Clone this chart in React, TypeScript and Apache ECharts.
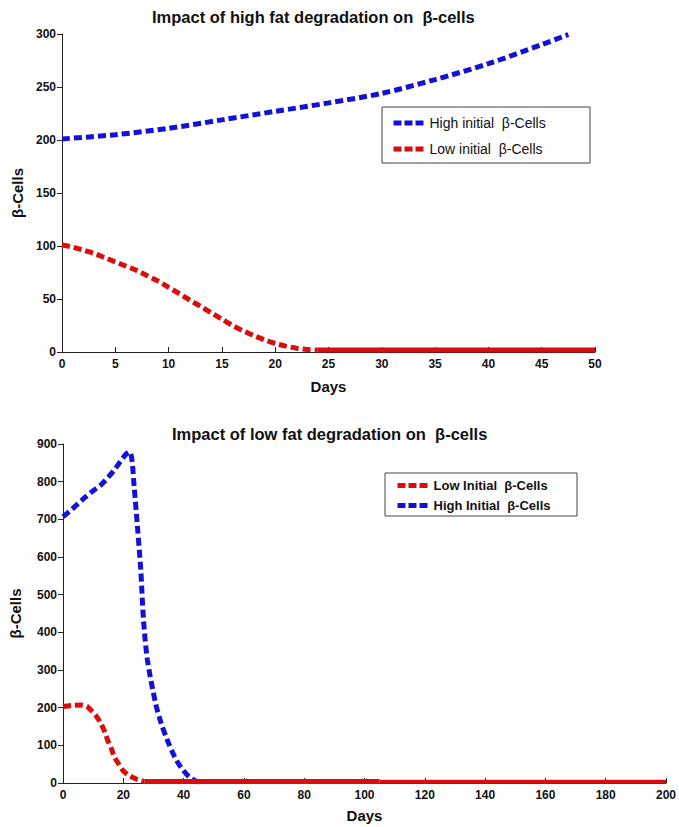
import React, { useEffect, useRef } from "react";
import * as echarts from "echarts";

// ---------- data ----------
const topTitle = "Impact of high fat degradation on  β-cells";
const bottomTitle = "Impact of low fat degradation on  β-cells";

const topHighName = "High initial  β-Cells";
const topLowName = "Low initial  β-Cells";
const bottomLowName = "Low Initial  β-Cells";
const bottomHighName = "High Initial  β-Cells";

const topHighDays = [0, 5, 10, 15, 20, 25, 30, 35, 40, 45, 47.5];
const topHighValues = [201, 205, 211, 219, 227, 235, 244, 257, 272, 290, 299.5];

const topLowDays = [0, 1, 2, 3, 4, 5, 6, 7, 8, 9, 10, 11, 12, 13, 14, 15, 16, 17, 18, 19, 20, 21, 22, 23, 24];
const topLowValues = [101, 99, 96, 93, 89, 85, 81, 77, 72, 67, 61, 55, 49, 43, 37, 31, 25, 20, 15.5, 11.5, 8, 5.5, 3.6, 2.4, 1.8];
const topLowTailDays = [24, 50];
const topLowTailValues = [1.8, 1.8];

const bottomHighDays = [0, 3, 7, 10, 12.5, 15, 17, 19, 21, 22, 22.8, 23.6, 24.7, 25.8, 26.7, 28, 30.7, 32.5, 34.6, 37, 39, 42, 44.5, 46];
const bottomHighValues = [707, 727, 756, 776, 791, 812, 831, 853, 874, 879, 862, 787, 680, 565, 433, 327, 212, 160, 114, 70, 43, 15, 4, 2];

const bottomLowDays = [0, 3, 6, 8, 9.2, 11, 12.5, 14, 14.8, 16, 17, 18.5, 19.7, 21.5, 23.6, 25, 27];
const bottomLowValues = [203, 206, 207, 203, 194, 178, 159, 133, 114, 92, 70, 50, 35, 22, 13, 8, 4];
const bottomLowTailDays = [27, 105];
const bottomLowTailValues = [4, 4];
const bottomLowTail2Days = [105, 200];
const bottomLowTail2Values = [3.5, 3.5];

const xLabel = "Days";
const yLabel = "β-Cells";

const zip = (xs: number[], ys: number[]) => xs.map((x, i) => [x, ys[i]]);

const BLUE = "#1212d6";
const RED = "#da0c0c";
const FONT = 'Arial, "Liberation Sans", Helvetica, sans-serif';

export default function App() {
  const ref = useRef<HTMLDivElement>(null);
  useEffect(() => {
    if (!ref.current) return;
    const chart = echarts.init(ref.current, undefined, { renderer: "svg" });

    const axisCommon = {
      type: "value" as const,
      axisLine: { show: true, lineStyle: { color: "#222", width: 1 } },
      splitLine: { show: false },
      axisLabel: { color: "#111", fontSize: 12, fontWeight: "bold", fontFamily: FONT },
      nameTextStyle: { color: "#111", fontSize: 15, fontWeight: "bold", fontFamily: FONT },
    };
    const xCommon = {
      ...axisCommon,
      axisTick: { show: true, inside: true, length: 5, lineStyle: { color: "#222" } },
      axisLabel: { ...axisCommon.axisLabel, margin: 6 },
      nameLocation: "middle" as const,
      name: xLabel,
    };
    const yCommon = {
      ...axisCommon,
      axisTick: { show: true, inside: false, length: 5, lineStyle: { color: "#222" } },
      axisLabel: { ...axisCommon.axisLabel, margin: 6 },
      nameLocation: "middle" as const,
      name: yLabel,
    };

    const dashed = (color: string) => ({ color, width: 5, type: [8, 4] as number[], cap: "butt" as const });
    const legendCommon = {
      orient: "vertical" as const,
      padding: 0,
      itemWidth: 31,
      backgroundColor: "transparent",
      borderWidth: 0,
      lineStyle: { width: 5, type: [8, 3] },
      itemStyle: { opacity: 0, borderWidth: 0 },
      z: 5,
    };

    chart.setOption({
      animation: false,
      backgroundColor: "#fff",
      title: [
        { text: topTitle, left: 147, top: 3, textStyle: { fontSize: 16.5, fontWeight: "bold", color: "#111", fontFamily: FONT } },
        { text: bottomTitle, left: 167, top: 420, textStyle: { fontSize: 16.5, fontWeight: "bold", color: "#111", fontFamily: FONT } },
      ],
      graphic: [
        { type: "rect", z: 4, shape: { x: 382, y: 107, width: 208, height: 56 }, style: { fill: "#fff", stroke: "#444", lineWidth: 1 } },
        { type: "rect", z: 4, shape: { x: 385, y: 473, width: 192, height: 43 }, style: { fill: "#fff", stroke: "#444", lineWidth: 1 } },
      ],
      grid: [
        { left: 62, top: 34, width: 533, height: 318 },
        { left: 62, top: 444, width: 605, height: 339 },
      ],
      xAxis: [
        { ...xCommon, gridIndex: 0, min: 0, max: 50, interval: 5, nameGap: 27 },
        { ...xCommon, gridIndex: 1, min: 0, max: 200, interval: 20, nameGap: 25 },
      ],
      yAxis: [
        { ...yCommon, gridIndex: 0, min: 0, max: 300, interval: 50, nameGap: 23 },
        { ...yCommon, gridIndex: 1, min: 0, max: 900, interval: 100, nameGap: 40 },
      ],
      legend: [
        {
          ...legendCommon,
          data: [topHighName, topLowName],
          left: 391,
          top: 116,
          itemGap: 12,
          itemHeight: 14,
          textStyle: { fontSize: 14, color: "#111", fontFamily: FONT },
        },
        {
          ...legendCommon,
          data: [bottomLowName, bottomHighName],
          left: 395,
          top: 479,
          itemGap: 7,
          itemHeight: 12,
          textStyle: { fontSize: 13, fontWeight: "bold", color: "#111", fontFamily: FONT },
        },
      ],
      series: [
        {
          name: topHighName, type: "line", xAxisIndex: 0, yAxisIndex: 0,
          data: zip(topHighDays, topHighValues), smooth: 0.3, showSymbol: false, symbol: "none",
          lineStyle: dashed(BLUE), itemStyle: { color: BLUE },
        },
        {
          name: topLowName, type: "line", xAxisIndex: 0, yAxisIndex: 0,
          data: zip(topLowDays, topLowValues), smooth: 0.3, showSymbol: false, symbol: "none",
          lineStyle: dashed(RED), itemStyle: { color: RED },
        },
        {
          name: "topLowTail", type: "line", xAxisIndex: 0, yAxisIndex: 0,
          data: zip(topLowTailDays, topLowTailValues), showSymbol: false, symbol: "none",
          lineStyle: { color: RED, width: 5 }, itemStyle: { color: RED },
        },
        {
          name: bottomLowName, type: "line", xAxisIndex: 1, yAxisIndex: 1,
          data: zip(bottomLowDays, bottomLowValues), smooth: 0.3, showSymbol: false, symbol: "none",
          lineStyle: dashed(RED), itemStyle: { color: RED },
        },
        {
          name: bottomHighName, type: "line", xAxisIndex: 1, yAxisIndex: 1,
          data: zip(bottomHighDays, bottomHighValues), smooth: 0.3, showSymbol: false, symbol: "none",
          lineStyle: dashed(BLUE), itemStyle: { color: BLUE },
        },
        {
          name: "bottomLowTail", type: "line", xAxisIndex: 1, yAxisIndex: 1,
          data: zip(bottomLowTailDays, bottomLowTailValues), showSymbol: false, symbol: "none",
          lineStyle: { color: RED, width: 5 }, itemStyle: { color: RED },
        },
        {
          name: "bottomLowTail2", type: "line", xAxisIndex: 1, yAxisIndex: 1,
          data: zip(bottomLowTail2Days, bottomLowTail2Values), showSymbol: false, symbol: "none",
          lineStyle: { color: RED, width: 4 }, itemStyle: { color: RED },
        },
      ],
    });
    return () => chart.dispose();
  }, []);
  return (
    <div
      ref={ref}
      style={{ position: "fixed", left: 0, top: 0, width: 679, height: 827, background: "#fff" }}
    />
  );
}
